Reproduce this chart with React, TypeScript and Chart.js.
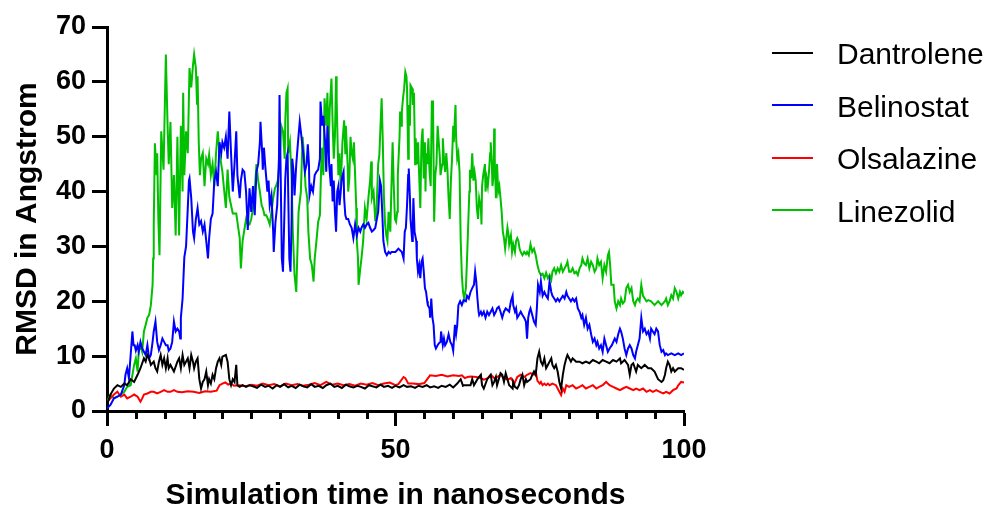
import React, { useEffect, useRef } from "react";
import { Chart, registerables } from "chart.js";

Chart.register(...registerables);

const FONT = '"Liberation Sans", Arial, Helvetica, sans-serif';

const seriesNames = ["Dantrolene", "Belinostat", "Olsalazine", "Linezolid"];
const seriesColors = ["#000000", "#0000FF", "#FF0000", "#00C000"];

const xMin = 0;
const xMax = 100;
const xMajorStep = 50;
const xMinorTicks = [5, 10, 15, 20, 25, 30, 35, 40, 45, 55, 60, 65, 70, 75, 80, 85, 90, 95];
const yMin = 0;
const yMax = 70;
const yStep = 10;

const xTitle = "Simulation time in nanoseconds";
const yTitle = "RMSD in Angstrom";

// [time (ns), RMSD (Å)]
const dantrolene: [number, number][] = [
  [0.0, 1.1], [0.6, 3.0], [1.2, 4.1], [1.8, 4.7], [2.4, 4.4], [3.0, 5.0], [3.5, 4.7], [4.1, 5.8], [4.7, 5.3],
  [5.3, 6.6], [5.8, 7.8], [6.4, 9.6], [6.7, 9.0], [7.0, 10.2], [7.3, 9.6], [7.6, 8.4], [8.1, 9.0], [8.4, 7.8],
  [8.7, 7.2], [9.0, 9.0], [9.3, 10.2], [9.6, 8.4], [9.9, 9.6], [10.2, 7.8], [10.5, 9.6], [10.7, 7.8], [11.0, 8.4],
  [11.6, 7.2], [12.2, 9.0], [12.5, 9.6], [12.8, 7.8], [13.1, 10.2], [13.4, 8.4], [13.7, 9.0], [14.0, 9.6],
  [14.3, 7.8], [14.6, 10.2], [14.9, 9.0], [15.1, 7.8], [15.4, 9.0], [15.7, 9.6], [16.0, 5.8], [16.3, 4.1],
  [16.6, 5.3], [16.9, 5.8], [17.2, 7.2], [17.5, 4.7], [17.7, 5.8], [18.0, 5.0], [18.3, 6.6], [18.6, 5.8],
  [18.9, 7.8], [19.2, 9.0], [19.5, 9.6], [19.8, 8.4], [20.0, 9.9], [20.6, 10.2], [20.9, 9.0], [21.2, 5.8],
  [21.5, 4.7], [21.8, 5.8], [22.1, 5.3], [22.4, 8.4], [22.6, 4.7], [23.0, 4.4], [23.5, 4.7], [24.1, 4.4],
  [24.7, 4.7], [25.3, 4.5], [26.0, 4.2], [26.7, 4.8], [27.4, 4.4], [28.0, 4.6], [28.7, 4.1], [29.4, 4.7],
  [30.0, 4.4], [30.7, 4.9], [31.4, 4.3], [32.0, 4.6], [32.7, 4.2], [33.4, 4.8], [34.0, 4.5], [34.7, 4.3],
  [35.4, 4.9], [36.0, 4.4], [36.7, 4.6], [37.4, 4.2], [38.0, 4.7], [38.7, 5.0], [39.4, 4.4], [40.0, 4.6],
  [40.7, 4.2], [41.4, 4.8], [42.0, 4.5], [42.7, 4.3], [43.4, 4.6], [44.0, 4.4], [44.7, 4.1], [45.4, 4.7],
  [46.0, 4.5], [46.7, 4.3], [47.4, 4.8], [48.0, 4.4], [48.7, 4.6], [49.4, 4.2], [50.0, 4.6], [50.7, 4.3],
  [51.4, 4.7], [52.0, 4.4], [52.7, 4.5], [53.4, 4.2], [54.0, 4.6], [54.7, 4.4], [55.4, 4.7], [56.0, 4.3],
  [56.7, 4.5], [57.4, 4.2], [58.0, 4.6], [58.7, 4.4], [59.4, 4.8], [60.0, 4.3], [60.7, 5.0], [61.3, 5.8],
  [61.7, 4.6], [61.9, 4.7], [63.0, 4.7], [63.3, 5.8], [63.6, 4.7], [64.2, 5.8], [64.8, 6.6], [65.0, 4.7],
  [65.3, 4.1], [65.9, 5.8], [66.5, 6.6], [66.8, 4.7], [67.1, 5.3], [67.4, 6.2], [67.6, 4.7], [67.9, 5.8],
  [68.2, 6.9], [68.5, 6.6], [68.8, 5.3], [69.1, 6.9], [69.4, 5.8], [69.7, 4.7], [70.0, 4.4], [70.3, 4.1],
  [70.4, 5.3], [70.7, 4.4], [71.1, 4.1], [71.4, 4.7], [71.7, 5.8], [72.0, 6.6], [72.3, 4.7], [72.6, 5.8],
  [72.8, 5.3], [73.4, 5.8], [73.7, 6.6], [74.0, 7.2], [74.3, 6.6], [74.6, 9.6], [74.9, 10.8], [75.2, 9.0],
  [75.5, 8.4], [75.8, 9.6], [76.1, 7.8], [76.4, 8.4], [76.7, 9.0], [77.0, 9.6], [77.2, 8.4], [77.5, 7.8],
  [77.8, 8.4], [78.1, 7.2], [78.4, 5.3], [78.7, 4.1], [79.0, 6.6], [79.3, 8.4], [79.6, 9.6], [79.8, 10.2],
  [80.1, 9.6], [80.4, 9.0], [80.7, 9.6], [81.0, 9.3], [81.3, 9.0], [81.9, 9.0], [82.4, 8.7], [83.0, 9.0],
  [83.6, 8.7], [84.2, 9.3], [84.8, 9.0], [85.3, 8.7], [85.9, 9.3], [86.5, 9.0], [87.1, 8.7], [87.7, 9.3],
  [88.3, 9.0], [88.9, 9.6], [89.1, 8.7], [89.7, 9.3], [90.3, 8.4], [90.6, 6.6], [90.9, 8.4], [91.2, 8.7],
  [91.5, 7.8], [91.7, 7.2], [92.0, 8.4], [92.6, 7.8], [93.2, 8.4], [93.8, 7.8], [94.3, 7.8], [94.9, 7.2],
  [95.5, 5.8], [96.1, 5.3], [96.4, 5.6], [96.7, 6.6], [96.9, 7.8], [97.2, 9.0], [97.5, 8.4], [97.8, 7.2],
  [98.1, 7.8], [98.4, 7.2], [99.0, 7.8], [99.5, 7.8], [100.0, 7.5],
];

const belinostat: [number, number][] = [
  [0.0, 0.5], [0.6, 1.1], [1.2, 2.3], [1.8, 2.6], [2.4, 3.0], [3.0, 4.7], [3.2, 6.6], [3.5, 7.8], [3.8, 6.0],
  [4.1, 10.2], [4.4, 14.5], [4.6, 12], [4.8, 12], [5.0, 11], [5.3, 12], [5.5, 10.8], [5.8, 12.6], [6.1, 11.4],
  [6.4, 10.8], [6.7, 10.2], [7.0, 12], [7.3, 9.6], [7.6, 10.2], [7.9, 12.6], [8.1, 14.5], [8.4, 16.3],
  [8.7, 12.6], [9.0, 11.1], [9.3, 12], [9.6, 13.2], [9.9, 12.6], [10.2, 12], [10.5, 12], [10.7, 11],
  [11.0, 11.4], [11.3, 12.6], [11.6, 16.3], [11.9, 14.5], [12.2, 15], [12.5, 14.5], [12.7, 13.2], [12.8, 17],
  [13.1, 20.5], [13.4, 28], [13.7, 30], [14.0, 37], [14.2, 42], [14.3, 42.4], [14.6, 38.8], [14.9, 32.7],
  [15.1, 31.5], [15.4, 35], [15.7, 37], [16.0, 34], [16.3, 34.6], [16.6, 32.7], [16.9, 34], [17.2, 31],
  [17.5, 27.8], [17.7, 31.5], [18.0, 35], [18.3, 36], [18.6, 42], [18.9, 43.6], [19.2, 41], [19.5, 49],
  [19.8, 47], [20.0, 49], [20.3, 48], [20.6, 50], [20.9, 46], [21.2, 54.6], [21.5, 47], [21.8, 40],
  [22.1, 45], [22.4, 51], [22.6, 43], [23.0, 38.8], [23.2, 42], [23.5, 44], [23.8, 43.6], [24.1, 40],
  [24.4, 33], [24.7, 40.6], [25.0, 36.3], [25.3, 41], [25.6, 35.7], [25.9, 43.6], [26.2, 45], [26.5, 49],
  [26.6, 52.7], [26.9, 47], [27.0, 44], [27.2, 48], [27.4, 45], [27.8, 40], [28.0, 42], [28.2, 37.5],
  [28.5, 39.3], [28.8, 32.7], [28.9, 29], [29.2, 34.5], [29.5, 37.5], [29.8, 46], [29.9, 57.6], [30.1, 43],
  [30.3, 27.8], [30.5, 25.4], [30.7, 34], [30.9, 42.4], [31.1, 46], [31.3, 47], [31.4, 40], [31.6, 27.8],
  [31.8, 25.4], [32.0, 35], [32.1, 46], [32.3, 44], [32.5, 39.3], [32.8, 45], [33.1, 49], [33.4, 52.7],
  [33.7, 50], [34.0, 47], [34.3, 43.6], [34.6, 45], [34.8, 48.6], [35.0, 45], [35.1, 39.3], [35.4, 41],
  [35.7, 40], [36.0, 43], [36.3, 43.6], [36.6, 44], [36.9, 46], [37.0, 56.4], [37.3, 52], [37.5, 53.8],
  [37.8, 49], [38.0, 43.6], [38.2, 52], [38.4, 48.6], [38.5, 45], [38.8, 41], [38.9, 45], [39.1, 38.2],
  [39.3, 42], [39.5, 36.3], [39.7, 32.7], [39.9, 40], [40.1, 41], [40.3, 37.5], [40.5, 40], [40.7, 42.4],
  [41.0, 43.6], [41.1, 38.8], [41.3, 35.7], [41.5, 35], [41.8, 35], [42.1, 34], [42.4, 33.4], [42.7, 31.5],
  [43.0, 34], [43.3, 32], [43.6, 33.4], [43.9, 32.7], [44.1, 33.4], [44.4, 34], [44.7, 33.4], [45.0, 34],
  [45.3, 34.3], [45.6, 33.4], [45.9, 32.7], [46.2, 33], [46.5, 33.4], [46.7, 34.6], [47.0, 36.3], [47.3, 42],
  [47.5, 41], [47.7, 36.3], [47.9, 31], [48.2, 29], [48.5, 28.4], [48.8, 29], [49.1, 28.7], [49.3, 29],
  [50.0, 29], [50.5, 29.6], [51.1, 29], [51.4, 27.8], [51.6, 32.7], [51.8, 33.4], [52.0, 37.5], [52.2, 43],
  [52.3, 44.2], [52.5, 38.8], [52.6, 35], [52.9, 31], [53.0, 34], [53.1, 38.8], [53.3, 32.7], [53.6, 31],
  [53.7, 27.8], [53.9, 25.4], [54.1, 26.6], [54.3, 24.2], [54.5, 27.2], [54.7, 27.8], [54.9, 25.4], [55.1, 22.4],
  [55.3, 21.7], [55.5, 20], [55.6, 19.3], [55.9, 18.7], [56.0, 17], [56.2, 20.5], [56.4, 17], [56.6, 15.7],
  [56.8, 12], [57.0, 11.4], [57.3, 12], [57.5, 12.3], [57.8, 12.6], [57.9, 14.5], [58.2, 12], [58.4, 13.2],
  [58.6, 12], [58.9, 12.6], [59.2, 14], [59.5, 12.6], [59.8, 12], [60.0, 11], [60.3, 15.7], [60.5, 14],
  [60.7, 15.7], [60.9, 19.3], [61.2, 20], [61.5, 19.3], [61.8, 20.2], [62.2, 20], [62.4, 21], [62.7, 20.5],
  [63.0, 21.7], [63.3, 22.4], [63.6, 23], [63.8, 25.4], [64.0, 23.6], [64.2, 20.5], [64.4, 18.1], [64.5, 17.5],
  [64.8, 18.1], [65.0, 17.5], [65.3, 18.1], [65.6, 17], [65.9, 18.1], [66.2, 17.5], [66.5, 18.1], [66.8, 18.7],
  [67.1, 17.5], [67.4, 18.1], [67.6, 18.7], [67.9, 19], [68.2, 18.1], [68.5, 17], [68.8, 18.1], [69.1, 18.7],
  [69.4, 18.4], [69.7, 18.1], [70.0, 20], [70.3, 21], [70.4, 19.3], [70.7, 18.1], [70.9, 18.7], [71.1, 17],
  [71.4, 17.5], [71.7, 18.1], [72.0, 17.5], [72.3, 17], [72.6, 16.3], [72.8, 13.2], [73.0, 17], [73.2, 18.1],
  [73.4, 18.7], [73.7, 17.5], [74.0, 16.3], [74.3, 15.7], [74.5, 18.7], [74.7, 23], [75.0, 21.7], [75.2, 23.6],
  [75.5, 21], [75.8, 21.7], [76.1, 21], [76.4, 20.5], [76.7, 23.6], [77.0, 21.7], [77.2, 21], [77.5, 20.5],
  [77.8, 20], [78.1, 20.5], [78.4, 20], [78.7, 20.5], [79.0, 21], [79.3, 20.5], [79.6, 21.7], [79.8, 21],
  [80.1, 20.5], [80.4, 20], [80.7, 20.5], [81.0, 20], [81.3, 20.5], [81.6, 18.7], [81.9, 18.1], [82.2, 17],
  [82.4, 17.5], [82.7, 15.7], [83.0, 17], [83.3, 15], [83.6, 15.7], [83.9, 14], [84.2, 12.6], [84.5, 13.2],
  [84.8, 12], [85.0, 12.6], [85.3, 11.4], [85.6, 12], [85.9, 10.8], [86.2, 13.2], [86.5, 12], [86.8, 10.8],
  [87.1, 11.4], [87.5, 12], [88.0, 13.2], [88.3, 12.6], [88.6, 14], [88.9, 15], [89.1, 14.5], [89.4, 13.2],
  [89.7, 11.4], [90.0, 10.2], [90.3, 11.4], [90.6, 12], [90.9, 11.4], [91.2, 10.2], [91.5, 9.6], [91.7, 10.8],
  [92.0, 12], [92.3, 13.2], [92.6, 17], [92.9, 14.5], [93.2, 15], [93.5, 14], [93.8, 14.5], [94.1, 13.2],
  [94.3, 15], [94.6, 14.5], [94.9, 14], [95.2, 15], [95.5, 14.5], [95.8, 12], [96.1, 10.8], [96.4, 11.1],
  [96.7, 10.2], [96.9, 10.5], [97.2, 10.2], [97.8, 10.5], [98.4, 10.2], [99.0, 10.5], [99.5, 10.2], [100.0, 10.5],
];

const olsalazine: [number, number][] = [
  [0.0, 1.7], [0.6, 2.3], [1.2, 3.0], [1.8, 3.5], [2.4, 2.6], [3.0, 3.0], [3.5, 2.3], [4.1, 2.6], [4.7, 3.0],
  [5.3, 2.6], [5.8, 1.7], [6.1, 2.3], [6.4, 3.0], [7.0, 3.2], [7.6, 3.5], [8.1, 3.5], [8.7, 3.2], [9.3, 3.5],
  [9.9, 3.8], [10.5, 3.5], [11.0, 3.5], [11.6, 3.8], [12.2, 3.5], [13.0, 3.4], [14.0, 3.6], [15.0, 3.5],
  [16.0, 3.3], [17.0, 3.6], [18.0, 3.5], [19.0, 3.7], [19.5, 4.7], [20.0, 5.0], [20.5, 5.2], [21.0, 4.8],
  [21.5, 5.0], [22.0, 4.6], [23.0, 4.7], [24.0, 4.5], [25.0, 4.8], [26.0, 4.6], [27.0, 5.0], [28.0, 4.7],
  [29.0, 4.9], [30.0, 4.5], [31.0, 5.0], [32.0, 4.7], [33.0, 4.9], [34.0, 4.6], [35.0, 4.8], [36.0, 5.1],
  [37.0, 4.7], [38.0, 5.3], [39.0, 4.8], [40.0, 5.0], [41.0, 4.7], [42.0, 4.9], [43.0, 4.6], [44.0, 5.0],
  [45.0, 4.8], [46.0, 5.1], [47.0, 4.7], [48.0, 5.0], [49.0, 5.2], [50.0, 4.7], [50.5, 4.9], [51.4, 6.2],
  [51.7, 6.0], [52.2, 5.0], [53.0, 5.0], [54.0, 4.9], [55.0, 5.1], [55.5, 5.8], [56.0, 6.5], [57.0, 6.4],
  [58.0, 6.6], [59.0, 6.3], [60.0, 6.5], [61.0, 6.4], [61.5, 6.5], [62.0, 6.0], [62.5, 6.2], [63.0, 6.3],
  [64.0, 6.2], [64.8, 6.0], [65.3, 5.7], [66.0, 6.0], [66.5, 6.6], [67.1, 6.0], [67.6, 6.2], [68.2, 6.6],
  [68.8, 6.0], [69.4, 5.7], [70.0, 6.0], [70.6, 5.0], [71.1, 6.2], [71.7, 6.6], [72.3, 6.2], [72.8, 6.6],
  [73.4, 6.9], [74.0, 6.6], [74.3, 7.2], [74.6, 5.5], [75.0, 5.0], [75.2, 5.3], [75.5, 4.7], [75.8, 5.0],
  [76.1, 4.7], [76.4, 5.0], [76.7, 4.7], [77.2, 5.0], [77.8, 4.7], [78.1, 4.1], [78.4, 3.5], [78.7, 2.9],
  [79.0, 4.1], [79.3, 3.5], [79.6, 4.7], [80.1, 4.4], [80.7, 4.7], [81.3, 4.1], [81.9, 4.4], [82.4, 4.7],
  [83.0, 4.1], [83.6, 4.4], [84.2, 4.7], [84.8, 4.1], [85.3, 4.4], [85.9, 4.7], [86.5, 5.3], [87.1, 4.7],
  [87.7, 4.4], [88.3, 4.1], [88.9, 3.8], [89.4, 4.1], [90.0, 4.4], [90.6, 4.1], [91.2, 3.8], [91.7, 4.1],
  [92.3, 3.8], [92.9, 4.1], [93.5, 3.5], [94.1, 3.8], [94.6, 3.5], [95.2, 3.8], [95.8, 3.5], [96.4, 3.2],
  [96.9, 3.5], [97.5, 3.2], [98.1, 3.8], [98.7, 4.1], [99.0, 4.7], [99.5, 5.3], [100.0, 5.2],
];

const linezolid: [number, number][] = [
  [0.0, 1.7], [0.6, 3.0], [1.2, 2.3], [1.8, 2.6], [2.4, 3.0], [3.0, 3.5], [3.5, 4.4], [4.1, 4.7], [4.7, 8.4],
  [5.0, 9.6], [5.3, 7.2], [5.5, 10.8], [5.8, 12.0], [6.1, 10.8], [6.4, 14.5], [6.7, 15.7], [7.0, 17.0],
  [7.3, 17.5], [7.6, 19.3], [7.9, 23.0], [8.0, 27.8], [8.1, 33.9], [8.3, 48.8], [8.6, 43], [8.7, 47],
  [8.9, 35], [9.1, 28.4], [9.4, 51], [9.8, 44], [10.2, 65], [10.5, 52], [10.7, 45], [11.0, 52.7], [11.3, 37],
  [11.6, 43], [11.9, 32], [12.2, 50], [12.5, 32], [12.8, 52], [13.1, 40], [13.2, 58], [13.4, 43], [13.7, 51],
  [14.0, 47], [14.3, 62.5], [14.6, 59], [14.9, 63], [15.1, 65], [15.4, 62.5], [15.6, 56], [15.7, 61],
  [15.9, 49], [16.1, 43], [16.3, 46], [16.6, 47], [16.9, 41], [17.2, 46], [17.5, 45], [17.7, 46.7], [18.0, 43],
  [18.3, 45], [18.6, 41], [18.9, 47], [19.2, 51], [19.5, 47], [19.8, 45], [20.0, 43.6], [20.6, 37], [20.9, 44],
  [21.2, 39], [21.8, 36], [22.4, 36], [23.0, 31.5], [23.2, 26], [23.5, 31], [23.8, 33], [24.1, 35], [24.4, 34],
  [24.7, 34], [25.0, 35], [25.3, 37], [25.6, 40], [25.9, 45], [26.2, 42], [26.5, 40], [26.8, 37.5], [27.0, 37],
  [27.3, 35.7], [27.6, 35.7], [27.9, 35], [28.2, 34], [28.5, 36.3], [28.8, 38.8], [29.1, 40.6], [29.3, 41],
  [29.6, 42], [29.9, 45], [30.2, 52], [30.5, 51], [30.8, 46], [30.9, 53], [31.1, 58], [31.3, 58.8], [31.4, 47],
  [31.7, 49], [32.0, 42.4], [32.2, 32.7], [32.5, 24.8], [32.8, 21.7], [33.0, 29], [33.2, 36.3], [33.6, 40],
  [33.9, 50], [34.2, 46], [34.4, 41], [34.7, 38.8], [34.9, 32.7], [35.2, 27.8], [35.5, 26.6], [35.8, 23.6],
  [36.0, 27.8], [36.3, 31], [36.6, 34.5], [36.9, 35.7], [37.2, 48], [37.5, 43], [37.7, 57], [38.0, 52],
  [38.2, 58], [38.4, 47], [38.6, 55], [38.9, 60.6], [39.1, 52.7], [39.3, 46], [39.5, 50], [39.7, 61], [39.8, 57],
  [39.9, 52], [40.1, 43], [40.3, 47], [40.5, 41], [40.7, 46], [40.8, 49], [41.1, 53], [41.3, 47], [41.4, 52],
  [41.7, 45], [41.8, 40], [42.0, 42.4], [42.2, 50], [42.4, 47], [42.6, 46], [42.8, 49], [43.0, 43], [43.2, 37],
  [43.3, 31], [43.5, 27.8], [43.6, 23], [43.9, 26], [44.1, 27.8], [44.4, 31], [44.7, 37], [45.0, 35],
  [45.3, 38.8], [45.6, 42], [45.8, 45.5], [45.9, 38.8], [46.2, 40], [46.5, 34.6], [46.7, 36.3], [47.0, 45],
  [47.2, 46.7], [47.4, 52], [47.6, 57], [47.8, 49], [48.0, 38.8], [48.2, 34], [48.4, 32], [48.6, 31],
  [48.8, 36.3], [49.1, 32.7], [49.3, 41], [49.5, 49], [49.7, 41], [49.9, 35], [50.1, 34.5], [50.3, 36.3],
  [50.4, 43], [50.7, 50], [50.8, 54.6], [51.0, 52], [51.1, 54.6], [51.3, 57], [51.5, 58.8], [51.7, 61.8],
  [51.9, 61], [52.0, 58.8], [52.2, 46], [52.3, 55.8], [52.5, 52], [52.6, 59.4], [52.9, 58.8], [53.0, 55.8],
  [53.2, 58], [53.4, 45], [53.5, 49.7], [53.7, 45], [53.9, 49], [54.1, 43], [54.3, 37], [54.5, 49],
  [54.7, 51.5], [54.9, 42.4], [55.1, 49], [55.2, 40], [55.3, 47], [55.5, 45], [55.7, 49.7], [55.9, 43.6],
  [56.1, 41], [56.3, 56.4], [56.5, 56.4], [56.7, 34.5], [56.9, 43], [57.1, 45], [57.3, 52], [57.5, 49],
  [57.7, 46], [57.8, 43], [58.1, 45], [58.2, 49.7], [58.4, 46], [58.6, 43.6], [58.8, 47], [59.0, 44],
  [59.2, 38.8], [59.4, 35], [59.6, 42], [59.8, 46], [60.0, 52], [60.1, 49], [60.4, 55.8], [60.5, 50],
  [60.7, 46], [60.9, 47], [61.1, 43.6], [61.3, 31], [61.5, 24.8], [61.7, 21.7], [61.9, 20.5], [62.2, 22.4],
  [62.4, 27.8], [62.6, 34], [62.8, 40], [62.9, 44], [63.1, 42.4], [63.3, 47], [63.5, 42], [63.7, 43.6],
  [63.9, 42], [64.1, 37], [64.3, 35], [64.5, 38.8], [64.8, 37], [64.9, 34], [65.0, 41], [65.2, 43], [65.5, 45],
  [65.6, 40], [65.8, 42.4], [66.0, 41], [66.2, 43.6], [66.4, 47], [66.5, 49], [66.7, 45], [66.8, 41], [67.0, 43],
  [67.1, 51.5], [67.2, 46], [67.4, 38.8], [67.6, 45], [67.8, 40], [68.0, 41], [68.2, 38.8], [68.4, 36.3],
  [68.6, 32.7], [68.8, 31.5], [69.0, 29.6], [69.2, 31.5], [69.4, 33.4], [69.6, 32], [69.7, 30.4], [70.0, 32],
  [70.2, 29], [70.4, 30.4], [70.7, 29], [70.9, 31], [71.1, 31.5], [71.3, 31], [71.5, 29.6], [71.7, 29],
  [72.0, 28.4], [72.3, 29], [72.6, 28.6], [72.8, 29], [73.1, 28.4], [73.4, 30.4], [73.7, 29], [74.0, 29.6],
  [74.3, 28.4], [74.6, 26.6], [74.9, 25.4], [75.2, 24.8], [75.5, 25], [75.8, 24.2], [76.1, 25.2], [76.4, 24.2],
  [76.7, 24.8], [77.0, 23.9], [77.2, 25.4], [77.5, 26], [77.8, 25.1], [78.1, 26], [78.4, 25.4], [78.7, 26.6],
  [79.0, 25.4], [79.3, 26], [79.6, 26.6], [79.8, 27.2], [80.1, 25.4], [80.4, 25.4], [80.7, 26], [81.0, 25.1],
  [81.3, 25.4], [81.6, 24.8], [81.9, 26], [82.2, 26.6], [82.4, 27.8], [82.7, 26.9], [83.0, 26.6], [83.3, 27.8],
  [83.6, 26], [83.9, 27.2], [84.2, 26.6], [84.5, 25.4], [84.8, 26], [85.0, 27.8], [85.3, 26.6], [85.6, 27.2],
  [85.9, 24.2], [86.2, 26.6], [86.5, 25.4], [86.8, 28.4], [87.0, 29], [87.2, 26.6], [87.4, 23], [87.8, 23],
  [88.0, 20], [88.3, 18.7], [88.6, 20], [88.9, 19.3], [89.1, 20.5], [89.4, 19.6], [89.7, 20], [90.0, 22.4],
  [90.3, 23], [90.6, 21.7], [90.9, 22.4], [91.2, 20], [91.5, 19.3], [91.7, 20], [92.0, 20.5], [92.3, 20],
  [92.6, 23], [92.9, 21], [93.2, 20.5], [93.5, 20], [93.8, 20.2], [94.3, 20], [94.9, 19.3], [95.5, 20],
  [96.1, 19.3], [96.7, 20], [96.9, 20.5], [97.2, 19.3], [97.5, 20], [97.8, 21.1], [98.1, 20.5], [98.4, 22.4],
  [98.7, 21.7], [99.0, 20.5], [99.3, 21.7], [99.5, 21.1], [99.8, 21.7], [100.0, 21.4],
];

const seriesData = [dantrolene, belinostat, olsalazine, linezolid];

const minorTickPlugin = {
  id: "minorTicks",
  afterDraw(chart: any) {
    const xs = chart.scales.x;
    const ctx = chart.ctx;
    ctx.save();
    ctx.strokeStyle = "#000";
    ctx.lineWidth = 3;
    for (const v of xMinorTicks) {
      const px = Math.round(xs.getPixelForValue(v)) + 0.5;
      ctx.beginPath();
      ctx.moveTo(px, xs.top);
      ctx.lineTo(px, xs.top + 8);
      ctx.stroke();
    }
    ctx.restore();
  },
};

export default function App() {
  const canvasRef = useRef<HTMLCanvasElement | null>(null);

  useEffect(() => {
    if (!canvasRef.current) return;
    const chart = new Chart(canvasRef.current, {
      type: "line",
      data: {
        datasets: seriesNames.map((name, i) => ({
          label: name,
          data: seriesData[i].map(([x, y]) => ({ x, y })),
          borderColor: seriesColors[i],
          backgroundColor: seriesColors[i],
          borderWidth: 2,
          pointRadius: 0,
          fill: false,
          tension: 0,
        })),
      },
      options: {
        animation: false,
        responsive: false,
        maintainAspectRatio: false,
        devicePixelRatio: 1,
        layout: { padding: { left: 0, top: 27, right: 306, bottom: 0 } },
        plugins: {
          legend: { display: false },
          tooltip: { enabled: false },
        },
        scales: {
          x: {
            type: "linear",
            min: xMin,
            max: xMax,
            afterFit: (s: any) => {
              s.height = 97;
            },
            ticks: {
              stepSize: xMajorStep,
              color: "#000",
              font: { family: FONT, size: 27, weight: "bold", lineHeight: 1 },
              padding: 11,
              maxRotation: 0,
              autoSkip: false,
            },
            grid: {
              drawOnChartArea: false,
              drawTicks: true,
              tickLength: 15,
              tickWidth: 3,
              tickColor: "#000",
            },
            border: { display: true, color: "#000", width: 3 },
            title: {
              display: true,
              text: xTitle,
              color: "#000",
              font: { family: FONT, size: 30, weight: "bold", lineHeight: 0.8 },
              padding: { top: 0, bottom: 0 },
            },
          },
          y: {
            type: "linear",
            min: yMin,
            max: yMax,
            afterFit: (s: any) => {
              s.width = 107;
            },
            ticks: {
              stepSize: yStep,
              color: "#000",
              font: { family: FONT, size: 27, weight: "bold", lineHeight: 1 },
              padding: 6,
            },
            grid: {
              drawOnChartArea: false,
              drawTicks: true,
              tickLength: 15,
              tickWidth: 3,
              tickColor: "#000",
            },
            border: { display: true, color: "#000", width: 3 },
            title: {
              display: true,
              text: yTitle,
              color: "#000",
              font: { family: FONT, size: 30, weight: "bold", lineHeight: 1 },
              padding: { top: 13, bottom: 0 },
            },
          },
        },
      },
      plugins: [minorTickPlugin],
    });
    return () => chart.destroy();
  }, []);

  const legendLineY = [52.5, 105, 157.5, 210];

  return (
    <div
      style={{
        position: "fixed",
        left: 0,
        top: 0,
        width: 990,
        height: 508,
        background: "#fff",
      }}
    >
      <canvas
        ref={canvasRef}
        width={990}
        height={508}
        style={{ display: "block", width: 990, height: 508 }}
      />
      {seriesNames.map((name, i) => (
        <React.Fragment key={name}>
          <div
            style={{
              position: "absolute",
              left: 772,
              top: legendLineY[i] - 1,
              width: 41,
              height: 2,
              background: seriesColors[i],
            }}
          />
          <div
            style={{
              position: "absolute",
              left: 837,
              top: legendLineY[i] - 13.5,
              fontFamily: FONT,
              fontSize: 30,
              lineHeight: "30px",
              color: "#000",
              whiteSpace: "nowrap",
            }}
          >
            {name}
          </div>
        </React.Fragment>
      ))}
    </div>
  );
}
